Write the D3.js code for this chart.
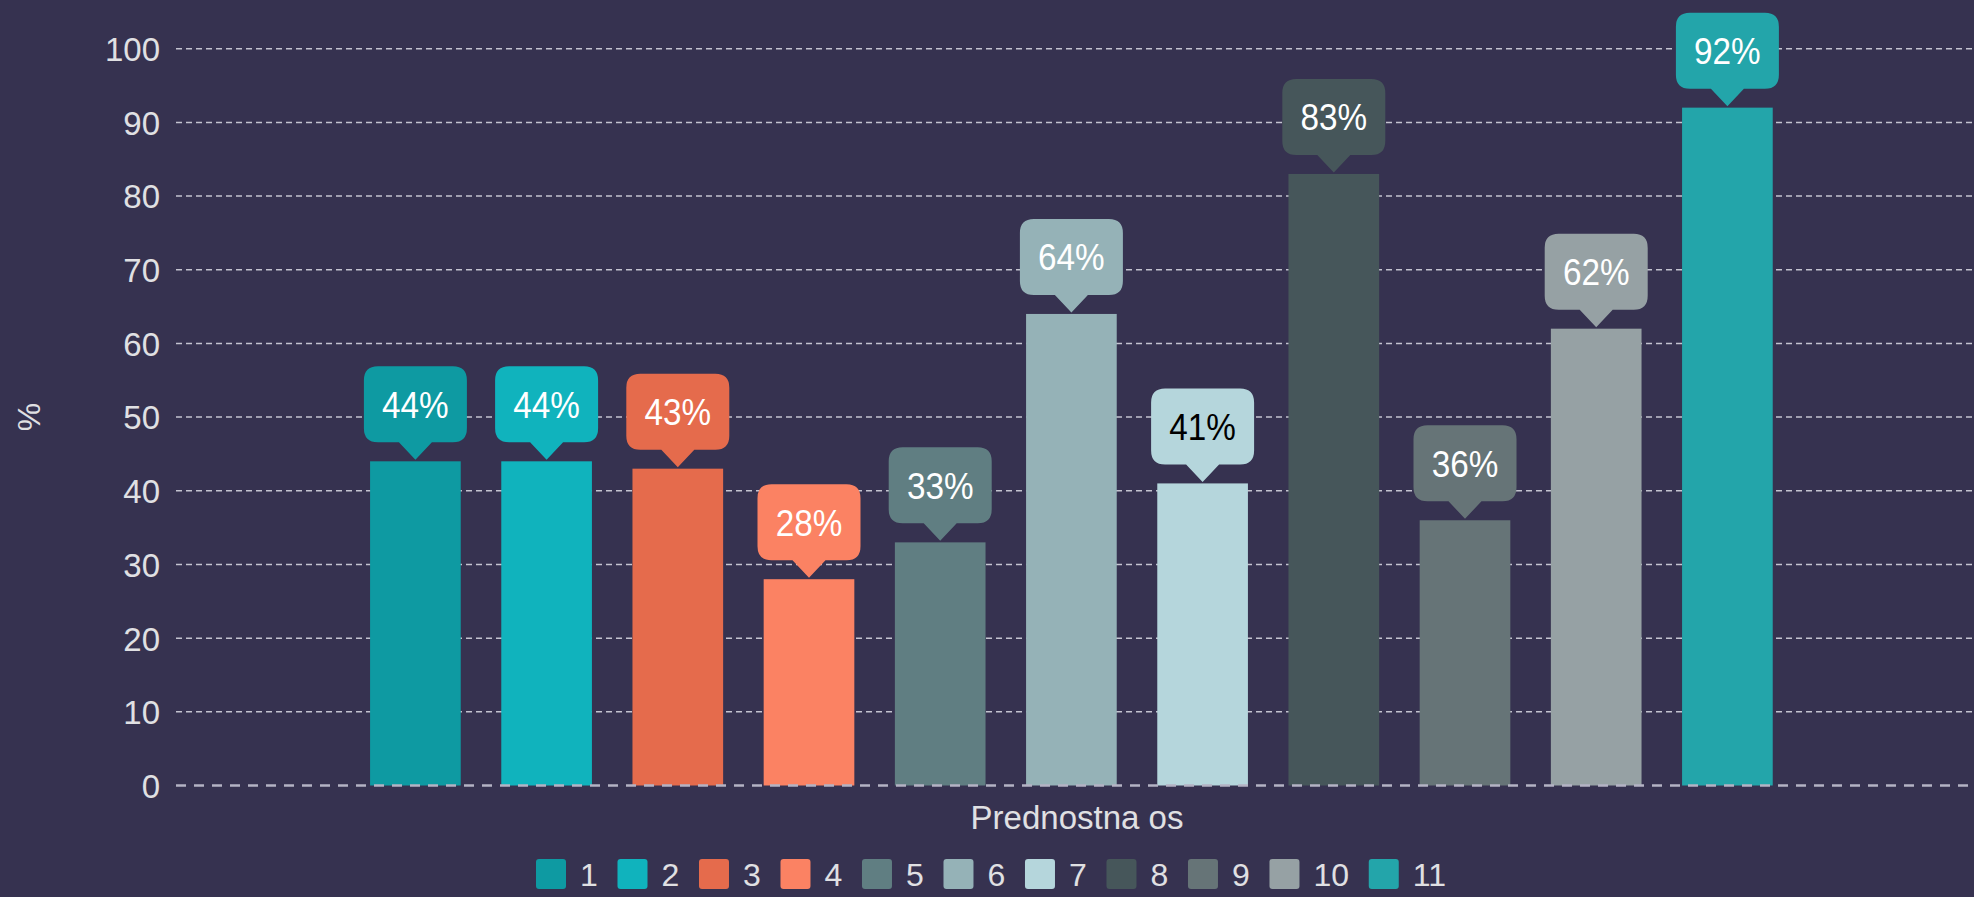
<!DOCTYPE html>
<html>
<head>
<meta charset="utf-8">
<script src="https://cdn.jsdelivr.net/npm/d3@7/dist/d3.min.js"></script>
<style>
  html, body { margin: 0; padding: 0; background: #363250; overflow: hidden; }
  svg { display: block; }
  text { font-family: "Liberation Sans", Arial, sans-serif; }
</style>
</head>
<body>
<svg id="chart" width="1974" height="897"></svg>
<script>
// ---- data ----
const seriesNames = ["1", "2", "3", "4", "5", "6", "7", "8", "9", "10", "11"];
const values = [44, 44, 43, 28, 33, 64, 41, 83, 36, 62, 92];
const colors = ["#0e9aa2", "#10b3bd", "#e56b4c", "#fb8263", "#607e82", "#95b2b7",
                "#b5d6dc", "#46565a", "#667477", "#96a1a4", "#23a5aa"];
const yTicks = [0, 10, 20, 30, 40, 50, 60, 70, 80, 90, 100];
const categoryLabel = "Prednostna os";
const yTitle = "%";

// ---- layout ----
const W = 1974, H = 897;
const plotLeft = 176, plotRight = 1974;
const svg = d3.select("#chart");
svg.append("rect").attr("width", W).attr("height", H).attr("fill", "#363250");

const y = d3.scaleLinear().domain([0, 100]).range([785.5, 48.7]);
const x = d3.scaleBand().domain(seriesNames).range([349.8, 1793])
  .paddingInner(0.309).paddingOuter(0.1545);

// gridlines
const grid = svg.append("g");
grid.selectAll("line").data(yTicks.filter(t => t !== 0)).join("line")
  .attr("x1", plotLeft).attr("x2", plotRight)
  .attr("y1", d => y(d)).attr("y2", d => y(d))
  .attr("stroke", "#c4c3d0").attr("stroke-width", 1.5)
  .attr("stroke-dasharray", "6,4");

// y axis labels
const yAxis = d3.axisLeft(y).tickValues(yTicks).tickSize(0).tickPadding(0);
const yg = svg.append("g").attr("transform", `translate(160,0)`).call(yAxis);
yg.select(".domain").remove();
yg.selectAll("text").attr("fill", "#e0e0e3").attr("font-size", 33)
  .attr("dy", "0.36em").attr("x", 0).style("font-family", "Liberation Sans, Arial, sans-serif");

// y title
svg.append("text").attr("transform", "translate(40,417) rotate(-90)")
  .attr("text-anchor", "middle").attr("fill", "#e0e0e3").attr("font-size", 32)
  .text(yTitle);

// bars
svg.append("g").selectAll("rect").data(values).join("rect")
  .attr("x", (d, i) => x(seriesNames[i]))
  .attr("width", x.bandwidth())
  .attr("y", d => y(d))
  .attr("height", d => y(0) - y(d))
  .attr("fill", (d, i) => colors[i]);

// zero line
svg.append("line").attr("x1", plotLeft).attr("x2", plotRight)
  .attr("y1", y(0)).attr("y2", y(0))
  .attr("stroke", "#b4b3c4").attr("stroke-width", 2.5)
  .attr("stroke-dasharray", "10,8");

// data label callouts
function callout(cx, tipY, w, h, ph, pw, r) {
  const bottom = tipY - ph;
  const top = bottom - h;
  const l = cx - w / 2, rgt = cx + w / 2;
  return `M${l + r},${top} H${rgt - r} Q${rgt},${top} ${rgt},${top + r}` +
    ` V${bottom - r} Q${rgt},${bottom} ${rgt - r},${bottom}` +
    ` H${cx + pw} L${cx},${tipY} L${cx - pw},${bottom}` +
    ` H${l + r} Q${l},${bottom} ${l},${bottom - r} V${top + r} Q${l},${top} ${l + r},${top} Z`;
}
const lab = svg.append("g").selectAll("g").data(values).join("g");
lab.append("path")
  .attr("d", (d, i) => callout(x(seriesNames[i]) + x.bandwidth() / 2, y(d) - 1.5, 103, 76, 17.5, 16.5, 14))
  .attr("fill", (d, i) => colors[i]);
lab.append("text")
  .attr("transform", (d, i) => `translate(${x(seriesNames[i]) + x.bandwidth() / 2},${y(d) - 19 - 38}) scale(0.9,1)`)
  .attr("text-anchor", "middle").attr("dy", "0.36em")
  .attr("font-size", 37)
  .attr("fill", (d, i) => { const c = d3.rgb(colors[i]); return (c.r + c.g + c.b) > 560 ? "#000000" : "#ffffff"; })
  .text(d => d + "%");

// x axis title
svg.append("text").attr("x", 1077).attr("y", 829).attr("text-anchor", "middle")
  .attr("fill", "#e0e0e3").attr("font-size", 33).text(categoryLabel);

// legend
const legend = svg.append("g").attr("transform", "translate(536,859)");
let lx = 0;
seriesNames.forEach((name, i) => {
  const g = legend.append("g").attr("transform", `translate(${lx},0)`);
  g.append("rect").attr("width", 30).attr("height", 30).attr("rx", 3).attr("fill", colors[i]);
  const t = g.append("text").attr("x", 44).attr("y", 27).attr("fill", "#e0e0e3")
    .attr("font-size", 32).text(name);
  lx += 44 + t.node().getComputedTextLength() + 19.7;
});
</script>
</body>
</html>
